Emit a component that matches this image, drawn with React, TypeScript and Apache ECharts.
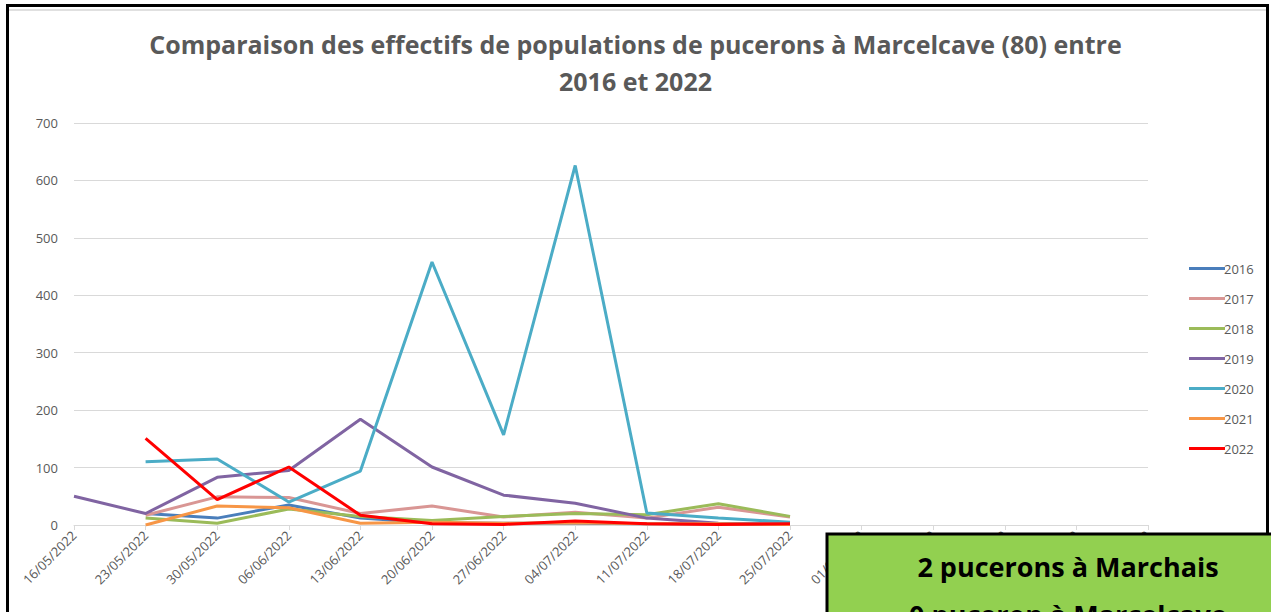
import React, { useEffect, useRef } from "react";
import * as echarts from "echarts";

const dates = [
  "16/05/2022", "23/05/2022", "30/05/2022", "06/06/2022", "13/06/2022", "20/06/2022",
  "27/06/2022", "04/07/2022", "11/07/2022", "18/07/2022", "25/07/2022", "01/08/2022",
  "08/08/2022", "15/08/2022", "22/08/2022", "29/08/2022",
];
const years = ["2016", "2017", "2018", "2019", "2020", "2021", "2022"];
const colors = ["#4a7ebb", "#d99694", "#9bbb59", "#8064a2", "#4bacc6", "#f79646", "#ff0000"];
const s2016 = [null, 20, 12, 35, 12, 4, 3, 3, 2, 2, 1];
const s2017 = [null, 17, 49, 48, 20, 33, 14, 22, 12, 31, 14];
const s2018 = [null, 12, 3, 28, 15, 8, 15, 20, 18, 37, 15];
const s2019 = [50, 20, 83, 95, 184, 101, 52, 38, 12, 3, 2];
const s2020 = [null, 110, 115, 40, 94, 458, 157, 626, 21, 12, 5];
const s2021 = [null, 0, 33, 30, 3, 5, 3, 4, 2, 2, 1];
const s2022 = [null, 151, 44, 101, 17, 2, 1, 7, 2, 1, 2];
const seriesValues = [s2016, s2017, s2018, s2019, s2020, s2021, s2022];
const yTicks = { min: 0, max: 700, interval: 100 };
const titleText = "Comparaison des effectifs de populations de pucerons à Marcelcave (80) entre\n2016 et 2022";
const boxLines = ["2 pucerons à Marchais", "0 puceron à Marcelcave"];

export default function App() {
  const ref = useRef<HTMLDivElement>(null);
  useEffect(() => {
    if (!ref.current) return;
    const chart = echarts.init(ref.current, null, { renderer: "svg" });
    const font = "'Open Sans', 'Noto Sans', sans-serif";
    chart.setOption({
      animation: false,
      backgroundColor: "#ffffff",
      textStyle: { fontFamily: font },
      title: {
        text: titleText,
        left: "center",
        top: 20,
        textStyle: { fontSize: 25, fontWeight: "bold", color: "#595959", lineHeight: 37, fontFamily: font },
      },
      legend: {
        orient: "vertical",
        left: 1184,
        top: 257,
        itemWidth: 36,
        itemHeight: 3,
        itemGap: 17,
        icon: "rect",
        textStyle: { fontSize: 13, color: "#595959", padding: [0, 0, 0, -6] },
        data: years,
      },
      grid: { left: 74, top: 123, width: 1074, height: 402, containLabel: false },
      xAxis: {
        type: "category",
        data: dates,
        boundaryGap: false,
        axisLine: { lineStyle: { color: "#d9d9d9", width: 1 } },
        axisTick: { show: true, length: 5, lineStyle: { color: "#d9d9d9" } },
        axisLabel: { rotate: 45, interval: 0, fontSize: 13, color: "#595959", margin: 8 },
        splitLine: { show: false },
      },
      yAxis: {
        type: "value",
        min: yTicks.min,
        max: yTicks.max,
        interval: yTicks.interval,
        axisLine: { show: false },
        axisTick: { show: false },
        axisLabel: { fontSize: 13, color: "#595959", margin: 16 },
        splitLine: { lineStyle: { color: "#d9d9d9", width: 1 } },
      },
      series: years.map((y, i) => ({
        name: y,
        type: "line",
        data: seriesValues[i],
        showSymbol: false,
        symbol: "none",
        connectNulls: false,
        lineStyle: { width: 3, color: colors[i] },
        itemStyle: { color: colors[i] },
      })),
      graphic: [
        {
          type: "rect",
          shape: { x: 7.5, y: 5.5, width: 1260, height: 640 },
          style: { fill: "none", stroke: "#000000", lineWidth: 3 },
          z: 100,
        },
        {
          type: "line",
          shape: { x1: 9, y1: 10, x2: 1266, y2: 10 },
          style: { stroke: "#e0e0e0", lineWidth: 2 },
          z: 100,
        },
        {
          type: "rect",
          shape: { x: 827, y: 534, width: 470, height: 120 },
          style: { fill: "#92d050", stroke: "#000000", lineWidth: 3 },
          z: 110,
        },
        {
          type: "text",
          x: 1068,
          y: 566,
          style: {
            text: boxLines[0],
            fontSize: 27,
            fontWeight: "bold",
            fontFamily: font,
            fill: "#000000",
            align: "center",
            verticalAlign: "middle",
          },
          z: 111,
        },
        {
          type: "text",
          x: 1068,
          y: 614,
          style: {
            text: boxLines[1],
            fontSize: 27,
            fontWeight: "bold",
            fontFamily: font,
            fill: "#000000",
            align: "center",
            verticalAlign: "middle",
          },
          z: 111,
        },
      ],
    });
    return () => chart.dispose();
  }, []);
  return (
    <div
      ref={ref}
      style={{ position: "fixed", left: 0, top: 0, width: 1271, height: 612, background: "#fff" }}
    />
  );
}
